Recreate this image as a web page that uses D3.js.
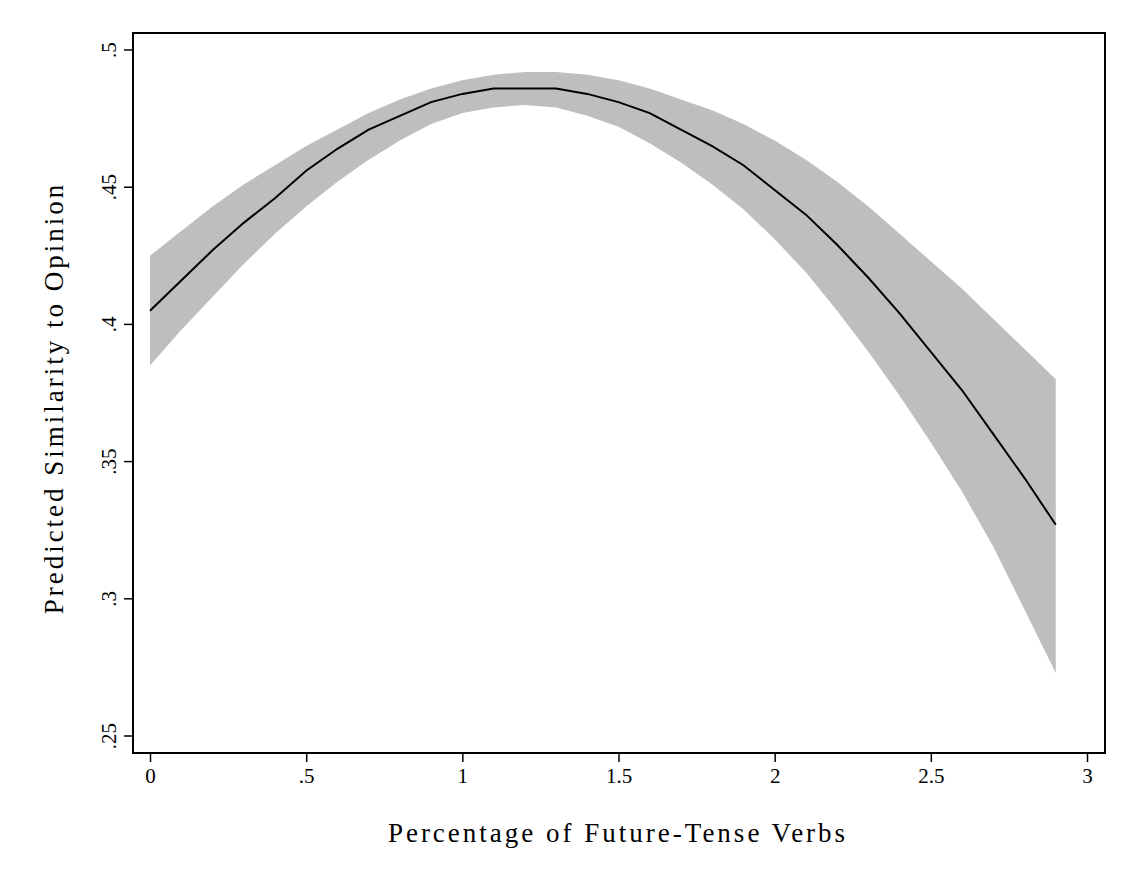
<!DOCTYPE html>
<html><head><meta charset="utf-8">
<script src="https://cdn.jsdelivr.net/npm/d3@7"></script>
<style>body{margin:0;background:#fff}text{font-family:"Liberation Serif",serif;fill:#000}</style>
</head><body>
<script>
const xs = [0,.1,.2,.3,.4,.5,.6,.7,.8,.9,1,1.1,1.2,1.3,1.4,1.5,1.6,1.7,1.8,1.9,2,2.1,2.2,2.3,2.4,2.5,2.6,2.7,2.8,2.9];
const fit = [.405,.416,.427,.437,.446,.456,.464,.471,.476,.481,.484,.486,.486,.486,.484,.481,.477,.471,.465,.458,.449,.440,.429,.417,.404,.390,.376,.360,.344,.327];
const upper = [.425,.434,.443,.451,.458,.465,.471,.477,.482,.486,.489,.491,.492,.492,.491,.489,.486,.482,.478,.473,.467,.460,.452,.443,.433,.423,.413,.402,.391,.380];
const lower = [.385,.398,.410,.422,.433,.443,.452,.460,.467,.473,.477,.479,.480,.479,.476,.472,.466,.459,.451,.442,.431,.419,.405,.390,.374,.357,.339,.319,.296,.273];
const xTicks = [0,.5,1,1.5,2,2.5,3], xLabels = ['0','.5','1','1.5','2','2.5','3'];
const yTicks = [.25,.3,.35,.4,.45,.5], yLabels = ['.25','.3','.35','.4','.45','.5'];

const W = 1133, H = 882, L = 133, R = 1105, T = 33, B = 753;
const x = d3.scaleLinear().domain([0,3]).range([150,1087]);
const y = d3.scaleLinear().domain([.25,.5]).range([736,50]);
const svg = d3.select('body').append('svg').attr('width',W).attr('height',H);
const data = xs.map((v,i)=>({x:v,f:fit[i],u:upper[i],l:lower[i]}));

svg.append('path').datum(data).attr('fill','#bebebe')
  .attr('d', d3.area().x(d=>x(d.x)).y0(d=>y(d.l)).y1(d=>y(d.u)));
svg.append('path').datum(data).attr('fill','none').attr('stroke','#000').attr('stroke-width',2)
  .attr('d', d3.line().x(d=>x(d.x)).y(d=>y(d.f)));

svg.append('rect').attr('x',L).attr('y',T).attr('width',R-L).attr('height',B-T)
  .attr('fill','none').attr('stroke','#000').attr('stroke-width',2);

const xa = svg.append('g').attr('transform',`translate(0,${B})`)
  .call(d3.axisBottom(x).tickValues(xTicks).tickFormat((d,i)=>xLabels[i]).tickSize(9).tickPadding(6));
xa.select('.domain').remove();
xa.selectAll('line').attr('stroke-width',1.5);
xa.selectAll('text').style('font-size','21px').style('font-family','Liberation Serif');

const ya = svg.append('g').attr('transform',`translate(${L},0)`)
  .call(d3.axisLeft(y).tickValues(yTicks).tickFormat((d,i)=>yLabels[i]).tickSize(9));
ya.select('.domain').remove();
ya.selectAll('line').attr('stroke-width',1.5);
ya.selectAll('text').style('font-size','21px').style('font-family','Liberation Serif')
  .attr('text-anchor','middle').attr('transform',d=>`translate(-24,0) rotate(-90)`).attr('x',0).attr('dy','0.35em')
  .attr('transform',d=>`translate(-24,${y(d)}) rotate(-90)`).attr('y',0);
ya.selectAll('.tick').attr('transform',null);
ya.selectAll('.tick line').attr('transform',d=>`translate(0,${y(d)})`);

svg.append('text').attr('x',(L+R)/2-1).attr('y',842).attr('text-anchor','middle')
  .style('font-size','27px').style('letter-spacing','3px').text('Percentage of Future-Tense Verbs');
svg.append('text').attr('transform',`translate(63,${(T+B)/2+5}) rotate(-90)`).attr('text-anchor','middle')
  .style('font-size','27px').style('letter-spacing','3px').text('Predicted Similarity to Opinion');
</script>
</body></html>
